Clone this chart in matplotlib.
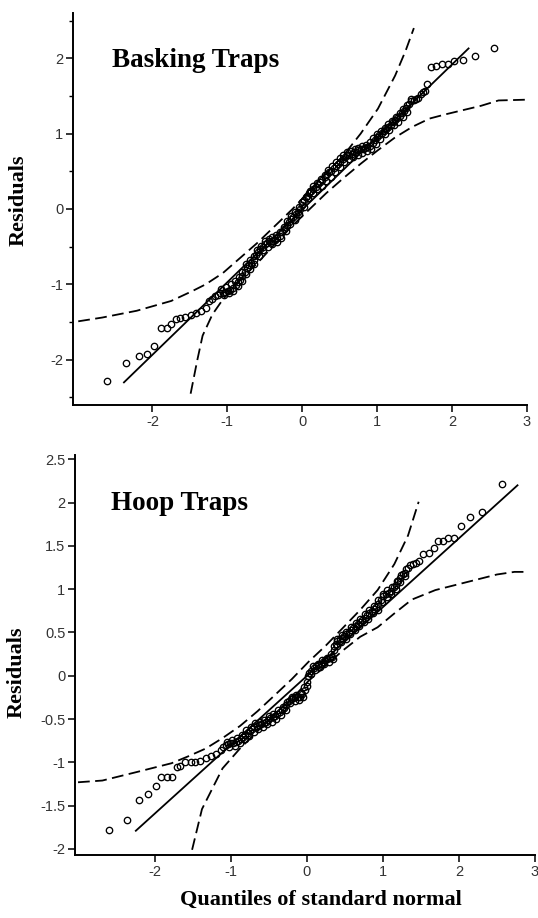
import numpy as np
import matplotlib
matplotlib.use("Agg")
import matplotlib.pyplot as plt
from matplotlib.ticker import MultipleLocator

plt.rcParams['axes.unicode_minus'] = False

# ---- Basking traps: (quantile, residual) ----
bask_q = [-2.60, -2.35, -2.18, -2.07, -1.98, -1.89, -1.81, -1.75, -1.69, -1.63,
          -1.56, -1.49, -1.42, -1.35, -1.28,
          -1.24, -1.20, -1.17, -1.13, -1.10, -1.06, -1.03, -0.99, -0.96, -0.92,
          -0.89, -0.86, -0.83, -0.80, -0.77, -0.74, -0.71, -0.68, -0.65, -0.62,
          -0.59, -0.56, -0.53, -0.50, -0.47, -0.44, -0.41, -0.37, -0.34, -0.30,
          -0.27, -0.24, -0.21, -0.18, -0.15, -0.12, -0.09, -0.06, -0.03, 0.00,
          0.03, 0.06, 0.09, 0.12, 0.15, 0.18, 0.21, 0.24, 0.27, 0.30,
          0.33, 0.36, 0.39, 0.42, 0.45, 0.48, 0.51, 0.54, 0.57, 0.60,
          0.63, 0.66, 0.69, 0.72, 0.75, 0.78, 0.81, 0.84, 0.87, 0.90,
          0.94, 0.97, 1.00, 1.03, 1.06, 1.09, 1.12, 1.15, 1.18, 1.21,
          1.24, 1.27, 1.30, 1.33, 1.36, 1.39, 1.42, 1.45, 1.49, 1.52,
          1.55, 1.58, 1.61, 1.64, 1.67,
          1.72, 1.79, 1.87, 1.94, 2.03, 2.14, 2.31, 2.56]
bask_r = [-2.28, -2.04, -1.95, -1.93, -1.82, -1.58, -1.58, -1.53, -1.46, -1.44,
          -1.43, -1.40, -1.38, -1.35, -1.31,
          -1.22, -1.19, -1.16, -1.14, -1.12, -1.11, -1.10, -1.09, -1.07, -1.05,
          -1.01, -0.97, -0.94, -0.89, -0.83, -0.78, -0.74, -0.71, -0.67, -0.61,
          -0.57, -0.53, -0.50, -0.47, -0.45, -0.43, -0.42, -0.41, -0.39, -0.36,
          -0.31, -0.27, -0.21, -0.17, -0.13, -0.10, -0.07, -0.04, 0.00, 0.05,
          0.12, 0.17, 0.21, 0.24, 0.27, 0.29, 0.33, 0.36, 0.39, 0.43,
          0.46, 0.49, 0.51, 0.54, 0.57, 0.60, 0.63, 0.66, 0.69, 0.71,
          0.72, 0.73, 0.75, 0.76, 0.78, 0.79, 0.80, 0.81, 0.82, 0.84,
          0.87, 0.91, 0.95, 0.98, 1.01, 1.03, 1.06, 1.09, 1.12, 1.15,
          1.18, 1.21, 1.24, 1.27, 1.30, 1.34, 1.39, 1.43, 1.45, 1.46,
          1.47, 1.52, 1.55, 1.57, 1.66,
          1.88, 1.90, 1.92, 1.93, 1.96, 1.97, 2.03, 2.14]
# extra points along the upper and lower edges of the dense band
bask_edge_q = [-1.08, -1.02, -0.95, -0.90, -0.85, -0.80, -0.75, -0.70, -0.65, -0.60,
               -0.55, -0.50, -0.45, -0.40, -0.35, -0.30, -0.25, -0.20, -0.15, -0.10,
               -0.05, 0.00, 0.05, 0.10, 0.15, 0.20, 0.25, 0.30, 0.35, 0.40,
               0.45, 0.50, 0.55, 0.60, 0.65, 0.70, 0.75, 0.80, 0.85, 0.90,
               0.95, 1.00, 1.05, 1.10, 1.15, 1.20, 1.25, 1.30, 1.35, 1.40, 1.45,
               -1.05, -0.98, -0.92, -0.86, -0.80, -0.75, -0.70, -0.64, -0.58, -0.52,
               -0.46, -0.40, -0.34, -0.28, -0.22, -0.16, -0.10, -0.04, 0.02, 0.08,
               0.14, 0.20, 0.26, 0.32, 0.38, 0.44, 0.50, 0.56, 0.62, 0.68,
               0.74, 0.80, 0.86, 0.92, 0.98, 1.04, 1.10, 1.16, 1.22, 1.28, 1.34, 1.40]
bask_edge_r = [-1.06, -1.04, -1.00, -0.96, -0.90, -0.83, -0.73, -0.68, -0.62, -0.55,
               -0.49, -0.43, -0.40, -0.37, -0.34, -0.30, -0.24, -0.16, -0.09, -0.04,
               0.03, 0.09, 0.16, 0.24, 0.30, 0.35, 0.40, 0.45, 0.52, 0.57,
               0.62, 0.67, 0.72, 0.75, 0.77, 0.79, 0.81, 0.83, 0.85, 0.89,
               0.94, 0.99, 1.04, 1.08, 1.13, 1.17, 1.22, 1.27, 1.32, 1.38, 1.46,
               -1.14, -1.12, -1.09, -1.02, -0.95, -0.86, -0.79, -0.73, -0.62, -0.54,
               -0.50, -0.47, -0.44, -0.38, -0.29, -0.20, -0.15, -0.07, 0.02, 0.14,
               0.21, 0.26, 0.31, 0.37, 0.43, 0.49, 0.56, 0.62, 0.66, 0.69,
               0.71, 0.74, 0.77, 0.80, 0.86, 0.93, 0.99, 1.05, 1.11, 1.16, 1.22, 1.29]
bask_line_x = [-2.38, 2.22]
bask_line_y = [-2.30, 2.13]
bask_up_x = [-2.99, -2.67, -2.21, -1.75, -1.47, -1.29, -1.06, -0.83, -0.60, -0.37,
             -0.14, 0.09, 0.32, 0.55, 0.78, 1.01, 1.24, 1.38, 1.49]
bask_up_y = [-1.49, -1.44, -1.35, -1.22, -1.09, -1.00, -0.85, -0.65, -0.45, -0.23,
             -0.01, 0.23, 0.47, 0.71, 1.00, 1.33, 1.77, 2.10, 2.40]
bask_lo_x = [-1.49, -1.40, -1.33, -1.20, -1.06, -0.83, -0.60, -0.37, -0.14, 0.09,
             0.32, 0.55, 0.78, 1.01, 1.24, 1.47, 1.70, 1.93, 2.39, 2.62, 2.99]
bask_lo_y = [-2.45, -2.00, -1.68, -1.40, -1.20, -0.94, -0.72, -0.47, -0.23, -0.01,
             0.21, 0.41, 0.60, 0.78, 0.95, 1.09, 1.20, 1.26, 1.37, 1.44, 1.45]

# ---- Hoop traps ----
hoop_q = [-2.60, -2.36, -2.21, -2.09, -1.99, -1.92, -1.84, -1.77, -1.71, -1.67,
          -1.60, -1.53, -1.47, -1.40, -1.33, -1.26, -1.20,
          -1.13, -1.10, -1.07, -1.04, -1.01, -0.97, -0.93, -0.90, -0.87, -0.84,
          -0.81, -0.78, -0.75, -0.72, -0.69, -0.66, -0.63, -0.60, -0.57, -0.54,
          -0.51, -0.48, -0.45, -0.42, -0.39, -0.36, -0.33, -0.30, -0.27, -0.24,
          -0.21, -0.18, -0.15, -0.12, -0.09, -0.06, -0.03, 0.00, 0.03, 0.06,
          0.09, 0.12, 0.15, 0.18, 0.21, 0.24, 0.27, 0.30, 0.33, 0.36,
          0.38, 0.40, 0.43, 0.46, 0.49, 0.52, 0.55, 0.58, 0.61, 0.64,
          0.67, 0.70, 0.73, 0.76, 0.79, 0.82, 0.85, 0.88, 0.91, 0.94,
          0.97, 1.00, 1.04, 1.08, 1.11, 1.14, 1.17, 1.20, 1.23, 1.26,
          1.29, 1.33, 1.36, 1.40, 1.44, 1.47,
          1.53, 1.60, 1.67, 1.72, 1.79, 1.86, 1.93, 2.03, 2.15, 2.30, 2.56]
hoop_r = [-1.78, -1.66, -1.44, -1.36, -1.27, -1.17, -1.17, -1.17, -1.05, -1.04,
          -1.00, -1.00, -1.00, -0.99, -0.95, -0.93, -0.90,
          -0.86, -0.82, -0.80, -0.79, -0.78, -0.78, -0.77, -0.75, -0.73, -0.71,
          -0.68, -0.66, -0.64, -0.62, -0.59, -0.58, -0.57, -0.56, -0.54, -0.53,
          -0.51, -0.49, -0.48, -0.46, -0.44, -0.42, -0.40, -0.37, -0.34, -0.29,
          -0.27, -0.26, -0.25, -0.25, -0.24, -0.21, -0.16, -0.07, 0.03, 0.06,
          0.09, 0.11, 0.12, 0.14, 0.16, 0.18, 0.19, 0.20, 0.22, 0.30,
          0.37, 0.40, 0.42, 0.44, 0.46, 0.48, 0.50, 0.53, 0.55, 0.58,
          0.60, 0.62, 0.65, 0.67, 0.70, 0.72, 0.75, 0.77, 0.79, 0.83,
          0.88, 0.92, 0.95, 0.96, 0.98, 1.02, 1.05, 1.09, 1.13, 1.17,
          1.19, 1.25, 1.28, 1.29, 1.30, 1.32,
          1.41, 1.42, 1.48, 1.56, 1.56, 1.59, 1.59, 1.73, 1.83, 1.89, 2.21]
hoop_edge_q = [-1.05, -0.98, -0.92, -0.86, -0.80, -0.74, -0.68, -0.62, -0.56, -0.50,
               -0.44, -0.38, -0.32, -0.26, -0.20, -0.14, -0.08, -0.04, 0.02, 0.08,
               0.14, 0.20, 0.26, 0.32, 0.36, 0.40, 0.46, 0.52, 0.58, 0.64,
               0.70, 0.76, 0.82, 0.88, 0.94, 1.00, 1.06, 1.12, 1.18, 1.24, 1.30,
               -1.02, -0.95, -0.88, -0.82, -0.76, -0.70, -0.64, -0.58, -0.52, -0.46,
               -0.40, -0.34, -0.28, -0.22, -0.16, -0.10, -0.05, 0.00, 0.05, 0.11,
               0.17, 0.23, 0.29, 0.34, 0.39, 0.45, 0.51, 0.57, 0.63, 0.69,
               0.75, 0.81, 0.87, 0.93, 0.99, 1.05, 1.11, 1.17, 1.23, 1.29]
hoop_edge_r = [-0.76, -0.74, -0.72, -0.68, -0.63, -0.59, -0.55, -0.53, -0.51, -0.47,
               -0.44, -0.40, -0.36, -0.30, -0.24, -0.22, -0.20, -0.13, 0.00, 0.11,
               0.14, 0.18, 0.21, 0.25, 0.34, 0.43, 0.47, 0.51, 0.56, 0.61,
               0.66, 0.71, 0.76, 0.81, 0.87, 0.95, 0.99, 1.03, 1.09, 1.16, 1.23,
               -0.82, -0.81, -0.78, -0.73, -0.69, -0.65, -0.62, -0.59, -0.56, -0.53,
               -0.50, -0.45, -0.39, -0.32, -0.29, -0.28, -0.25, -0.12, 0.02, 0.07,
               0.10, 0.14, 0.16, 0.19, 0.34, 0.39, 0.43, 0.48, 0.53, 0.57,
               0.62, 0.66, 0.72, 0.76, 0.85, 0.91, 0.94, 1.00, 1.08, 1.15]
hoop_line_x = [-2.25, 2.77]
hoop_line_y = [-1.79, 2.20]
hoop_up_x = [-3.01, -2.69, -2.23, -1.78, -1.56, -1.33, -1.11, -0.88, -0.65, -0.43,
             -0.20, 0.02, 0.25, 0.47, 0.70, 0.93, 1.15, 1.33, 1.47]
hoop_up_y = [-1.23, -1.21, -1.11, -1.01, -0.93, -0.84, -0.72, -0.58, -0.41, -0.23,
             -0.04, 0.16, 0.35, 0.55, 0.76, 0.99, 1.29, 1.62, 2.01]
hoop_lo_x = [-1.51, -1.38, -1.11, -0.88, -0.65, -0.43, -0.20, 0.02, 0.25, 0.47,
             0.70, 0.93, 1.15, 1.38, 1.69, 2.05, 2.50, 2.73, 2.89]
hoop_lo_y = [-2.01, -1.54, -1.07, -0.84, -0.64, -0.45, -0.27, -0.06, 0.12, 0.29,
             0.45, 0.56, 0.72, 0.88, 0.99, 1.07, 1.17, 1.20, 1.20]

SERIF = ['Liberation Serif', 'DejaVu Serif']
SANS = ['Liberation Sans', 'DejaVu Sans']
DASH = (0, (6.5, 3.0))

fig = plt.figure(figsize=(5.38, 9.18), dpi=100)
ax1 = fig.add_axes([73 / 538, 1 - 405 / 918, 454 / 538, 392 / 918])
ax2 = fig.add_axes([75 / 538, 1 - 855 / 918, 460 / 538, 400 / 918])


def draw_panel(ax, q, r, eq, er, lx, ly, ux, uy, dx, dy, title, tx, ty):
    ax.plot(q, r, 'o', ms=4.6, mfc='none', mec='black', mew=0.95, zorder=3)
    ax.plot(eq, er, 'o', ms=4.6, mfc='none', mec='black', mew=0.95, zorder=3)
    ax.plot(lx, ly, '-', color='black', lw=1.3)
    ax.plot(ux, uy, color='black', lw=1.3, ls=DASH)
    ax.plot(dx, dy, color='black', lw=1.3, ls=DASH)
    ax.text(tx, ty, title, family=SERIF, weight='bold', fontsize=19.5,
            ha='left', va='baseline')
    for s in ('top', 'right'):
        ax.spines[s].set_visible(False)
    for s in ('left', 'bottom'):
        ax.spines[s].set_linewidth(1.4)
    ax.set_xticks([-2, -1, 0, 1, 2, 3])
    ax.tick_params(which='major', direction='out', length=5, width=1.1,
                   pad=2, labelsize=10.5, labelcolor='#333333')
    ax.tick_params(which='minor', direction='out', length=3, width=1.0)
    for lab in ax.get_xticklabels() + ax.get_yticklabels():
        lab.set_family(SANS)


draw_panel(ax1, bask_q, bask_r, bask_edge_q, bask_edge_r, bask_line_x, bask_line_y,
           bask_up_x, bask_up_y, bask_lo_x, bask_lo_y, 'Basking Traps', -2.54, 1.88)
ax1.set_xlim(-3.06, 3.0)
ax1.set_ylim(-2.6, 2.6)
ax1.set_yticks([-2, -1, 0, 1, 2])
ax1.yaxis.set_minor_locator(MultipleLocator(0.5))
for lab in ax1.get_yticklabels():
    lab.set_family(SANS)

draw_panel(ax2, hoop_q, hoop_r, hoop_edge_q, hoop_edge_r, hoop_line_x, hoop_line_y,
           hoop_up_x, hoop_up_y, hoop_lo_x, hoop_lo_y, 'Hoop Traps', -2.57, 1.91)
ax2.set_xlim(-3.05, 3.0)
ax2.set_ylim(-2.07, 2.55)
ax2.set_yticks([-2, -1.5, -1, -0.5, 0, 0.5, 1, 1.5, 2, 2.5])
ax2.set_yticklabels(['-2', '-1.5', '-1', '-0.5', '0', '0.5', '1', '1.5', '2', '2.5'],
                    family=SANS)

fig.text(19 / 538, 1 - 200 / 918, 'Residuals', rotation=90, family=SERIF,
         weight='bold', fontsize=16, ha='center', va='center')
fig.text(17 / 538, 1 - 672 / 918, 'Residuals', rotation=90, family=SERIF,
         weight='bold', fontsize=16, ha='center', va='center')
fig.text(321 / 538, 1 - 900 / 918, 'Quantiles of standard normal', family=SERIF,
         weight='bold', fontsize=16, ha='center', va='center')

fig.savefig('out.png', dpi=100)
